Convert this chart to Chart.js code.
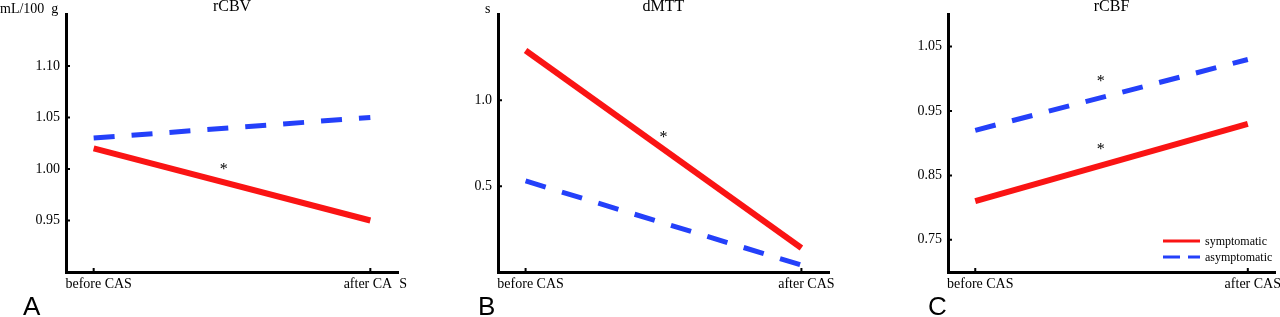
<!DOCTYPE html>
<html lang="en">
<head>
<meta charset="UTF-8">
<title>Perfusion before and after CAS</title>
<script src="https://cdn.jsdelivr.net/npm/chart.js"></script>
<style>
  html, body { margin: 0; padding: 0; background: #fff; }
  #wrap { position: relative; width: 1280px; height: 317px; overflow: hidden; }
  canvas { position: absolute; top: 0; }
</style>
</head>
<body>
<div id="wrap">
  <canvas id="cbv" width="430" height="317" style="left:0"></canvas>
  <canvas id="mtt" width="430" height="317" style="left:430px"></canvas>
  <canvas id="cbf" width="420" height="317" style="left:860px"></canvas>
</div>
<script>
const groups = ['symptomatic', 'asymptomatic'];
const timeLabelsA = ['before CAS', 'after CA  S'];
const timeLabels = ['before CAS', 'after CAS'];

const rcbvSympt = [1.02, 0.95];
const rcbvAsympt = [1.03, 1.05];
const rcbvTicks = [0.95, 1.00, 1.05, 1.10];

const dmttSympt = [1.29, 0.14];
const dmttAsympt = [0.53, 0.04];
const dmttTicks = [0.5, 1.0];

const rcbfSympt = [0.81, 0.93];
const rcbfAsympt = [0.92, 1.03];
const rcbfTicks = [0.75, 0.85, 0.95, 1.05];

// significance asterisks: [x between timepoints, y in data units]
const rcbvStars = [[0.47, 1.002]];
const dmttStars = [[0.5, 0.80]];
const rcbfStars = [[0.46, 1.0], [0.46, 0.895]];

const RED = '#fa1414';
const BLUE = '#2440fa';
const SERIF = '"Liberation Serif", "DejaVu Serif", serif';

// titles, unit labels, panel letters, asterisks, inward tick marks, legend
const deco = {
    id: 'deco',
    afterDraw(chart, args, o) {
        const ctx = chart.ctx;
        const a = chart.chartArea;
        const xs = chart.scales.x, ys = chart.scales.y;
        ctx.save();
        ctx.fillStyle = '#000';
        ctx.strokeStyle = '#000';

        ctx.font = '16px ' + SERIF;
        ctx.textAlign = 'center';
        ctx.textBaseline = 'alphabetic';
        ctx.fillText(o.title, (a.left + a.right) / 2, 11);

        ctx.font = '14px ' + SERIF;
        ctx.textAlign = 'left';
        ctx.fillText(o.unit, o.unitX, 13);

        ctx.font = '26px "Liberation Sans", Arial, sans-serif';
        ctx.fillText(o.letter, o.letterX, 315);

        ctx.font = '16px ' + SERIF;
        ctx.textAlign = 'center';
        ctx.textBaseline = 'middle';
        o.stars.forEach(s => ctx.fillText('*', xs.getPixelForValue(s[0]), ys.getPixelForValue(s[1]) + 3));

        ctx.lineWidth = 2;
        ctx.beginPath();
        ys.ticks.forEach(t => {
            const y = ys.getPixelForValue(t.value);
            ctx.moveTo(a.left, y); ctx.lineTo(a.left + 4, y);
        });
        xs.ticks.forEach(t => {
            const x = xs.getPixelForValue(t.value);
            ctx.moveTo(x, a.bottom); ctx.lineTo(x, a.bottom - 4);
        });
        ctx.stroke();

        if (o.legend) {
            const lx = chart.width - 117;
            const rows = [[RED, [], 241], [BLUE, [17, 8], 257]];
            ctx.lineWidth = 3;
            ctx.font = '12px ' + SERIF;
            ctx.textAlign = 'left';
            rows.forEach((r, i) => {
                ctx.strokeStyle = r[0];
                ctx.setLineDash(r[1]);
                ctx.beginPath();
                ctx.moveTo(lx, r[2]); ctx.lineTo(lx + 37, r[2]);
                ctx.stroke();
                ctx.fillText(groups[i], lx + 42, r[2] + 1);
            });
            ctx.setLineDash([]);
        }
        ctx.restore();
    }
};

function pts(vals) {
    return vals.map((v, i) => ({ x: i, y: v }));
}

function makePanel(id, cfg) {
    return new Chart(document.getElementById(id), {
        type: 'line',
        data: {
            datasets: [{
                label: groups[0],
                data: pts(cfg.sympt),
                borderColor: RED,
                borderWidth: 6,
                pointRadius: 0
            }, {
                label: groups[1],
                data: pts(cfg.asympt),
                borderColor: BLUE,
                borderWidth: 5,
                borderDash: [21, 17],
                pointRadius: 0
            }]
        },
        options: {
            responsive: false,
            animation: false,
            layout: { padding: { top: 14, right: cfg.padRight, left: 0, bottom: 0 } },
            scales: {
                x: {
                    type: 'linear',
                    min: -0.1,
                    max: 1.1,
                    afterBuildTicks: s => { s.ticks = [{ value: 0 }, { value: 1 }]; },
                    afterFit: s => { s.height = 45; },
                    grid: { display: false, drawTicks: false },
                    border: { display: true, color: '#000', width: 3 },
                    ticks: {
                        color: '#000',
                        font: { family: SERIF, size: 14 },
                        padding: 4,
                        labelOffset: 5,
                        maxRotation: 0,
                        callback: v => cfg.xLabels[v]
                    }
                },
                y: {
                    min: cfg.min,
                    max: cfg.max,
                    afterBuildTicks: s => { s.ticks = cfg.ticks.map(v => ({ value: v })); },
                    afterFit: s => { s.width = cfg.left; },
                    grid: { display: false, drawTicks: false },
                    border: { display: true, color: '#000', width: 3 },
                    ticks: {
                        color: '#000',
                        font: { family: SERIF, size: 14 },
                        padding: 6,
                        callback: v => v.toFixed(cfg.decimals)
                    }
                }
            },
            plugins: {
                legend: { display: false },
                tooltip: { enabled: false },
                deco: {
                    title: cfg.title, unit: cfg.unit, unitX: cfg.unitX,
                    letter: cfg.letter, letterX: cfg.letterX,
                    stars: cfg.stars, legend: cfg.legend
                }
            }
        },
        plugins: [deco]
    });
}

makePanel('cbv', {
    title: 'rCBV', unit: 'mL/100  g', unitX: 0, letter: 'A', letterX: 23,
    sympt: rcbvSympt, asympt: rcbvAsympt, ticks: rcbvTicks, decimals: 2,
    min: 0.90, max: 1.15, xLabels: timeLabelsA, stars: rcbvStars,
    left: 66, padRight: 32, legend: false
});

makePanel('mtt', {
    title: 'dMTT', unit: 's', unitX: 55, letter: 'B', letterX: 48,
    sympt: dmttSympt, asympt: dmttAsympt, ticks: dmttTicks, decimals: 1,
    min: 0, max: 1.5, xLabels: timeLabels, stars: dmttStars,
    left: 68, padRight: 31, legend: false
});

makePanel('cbf', {
    title: 'rCBF', unit: '', unitX: 0, letter: 'C', letterX: 68,
    sympt: rcbfSympt, asympt: rcbfAsympt, ticks: rcbfTicks, decimals: 2,
    min: 0.70, max: 1.10, xLabels: timeLabels, stars: rcbfStars,
    left: 88, padRight: 0, legend: true
});
</script>
</body>
</html>
